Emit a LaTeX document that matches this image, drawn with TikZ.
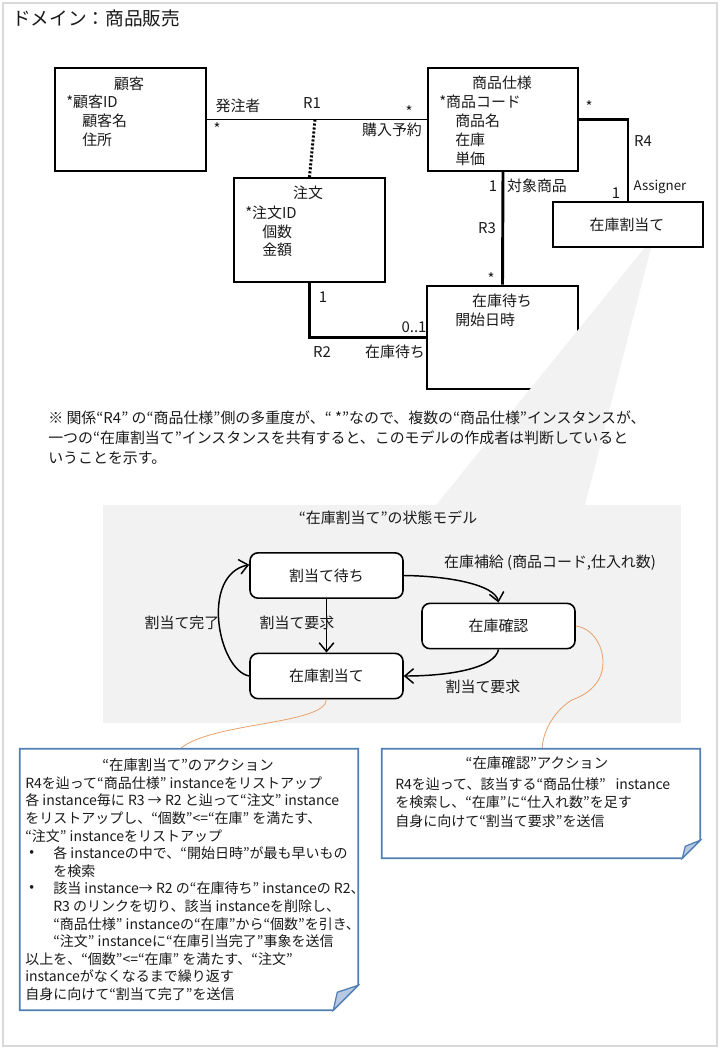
\documentclass[tikz,border=0pt]{standalone}
\usepackage{fontspec}
\setmainfont{Noto Sans CJK JP}
\usetikzlibrary{arrows.meta,fit,calc}
\definecolor{framec}{HTML}{D9D9D9}
\definecolor{greybg}{HTML}{F2F2F2}
\definecolor{orangec}{HTML}{E9A06A}
\definecolor{noteblue}{HTML}{4F7FB5}
\definecolor{foldc}{HTML}{B7C8E2}
\definecolor{txt}{HTML}{1A1A1A}
\tikzset{
 lbl/.style={inner sep=0pt, font=\fontsize{11.2}{13}\selectfont, text=txt},
 attr/.style={lbl, anchor=west},
 entbox/.style={draw, line width=1.5pt, inner sep=0pt},
 thickbox/.style={draw, line width=2.2pt, inner sep=0pt},
 assoc/.style={line width=2.2pt},
 stbox/.style={draw, rounded corners=6pt, line width=1.2pt, fill=white, minimum width=114.75pt, minimum height=34pt, inner sep=0pt, font=\fontsize{11.2}{13}\selectfont, text=txt},
 trans/.style={line width=1.1pt, -{Straight Barb[length=6.5pt,width=11pt]}},
 ntxt/.style={inner sep=0pt, anchor=west, font=\fontsize{10.5}{12}\selectfont, text=txt},
 notebd/.style={draw=noteblue, line width=1.2pt, fill=white},
 orangeline/.style={draw=orangec, line width=0.6pt},
}
\begin{document}
\begin{tikzpicture}[x=0.75pt,y=-0.75pt]
\useasboundingbox (0,0) rectangle (720,1049);
\draw[framec, line width=1.5pt] (3,3) rectangle (717,1046);
\node[lbl, anchor=west, font=\fontsize{14}{16}\selectfont] (title) at (12,18) {ドメイン：商品販売};

% entity boxes
\node[entbox, fit={(55,68)(206,171)}] (kokyaku) {};
\node[entbox, fit={(428,68)(578,171)}] (shohin) {};
\node[entbox, fit={(234,178)(385,282)}] (chumon) {};
\node[thickbox, fit={(427,286)(578,389)}] (machi) {};

% associations R1, R2, R3
\coordinate (r1mid) at (315,119.5);
\draw[line width=0.8pt] (kokyaku.east) -- (shohin.west);
\draw[line width=2.2pt, dash pattern=on 1.6pt off 1.4pt] (r1mid) -- (chumon.north);
\draw[assoc] (shohin.south) -- (machi.north);
\draw[assoc] (chumon.south) |- (machi.west);

% callout wedge
\fill[greybg] (651,240) -- (436,505) -- (585,505) -- (653,240) -- cycle;

% stock allocation class box and R4
\node[thickbox, fill=white, fit={(553,202)(703,247)}] (wari) {};
\node[lbl] (wariT) at (627,225) {在庫割当て};
\draw[assoc] (shohin.east) -| (wari.north);

% entity texts
\node[lbl] (kT) at (129,84) {顧客};
\node[attr] (k1) at (66,102) {*顧客ID};
\node[attr] (k2) at (82,121) {顧客名};
\node[attr] (k3) at (82,140) {住所};

\node[lbl] (sT) at (502,83) {商品仕様};
\node[attr] (s1) at (439,102) {*商品コード};
\node[attr] (s2) at (455,121) {商品名};
\node[attr] (s3) at (455,140) {在庫};
\node[attr] (s4) at (455,159) {単価};

\node[lbl] (cT) at (308,193) {注文};
\node[attr] (c1) at (245,213) {*注文ID};
\node[attr] (c2) at (262,232) {個数};
\node[attr] (c3) at (262,250) {金額};

\node[lbl] (mT) at (502,301) {在庫待ち};
\node[attr] (m1) at (455,320) {開始日時};

% association labels
\node[lbl] (l1) at (238,106) {発注者};
\node[lbl] (l2) at (312,103) {R1};
\node[lbl] (l3) at (217,129) {*};
\node[lbl] (l4) at (409,112) {*};
\node[lbl] (l5) at (392,130) {購入予約};
\node[lbl] (l6) at (589,107) {*};
\node[lbl] (l7) at (643,141) {R4};
\node[lbl] (l8) at (616,193) {1};
\node[lbl, font=\fontsize{10}{12}\selectfont] (l9) at (660,187) {Assigner};
\node[lbl] (l10) at (493,186) {1};
\node[lbl] (l11) at (537,186) {対象商品};
\node[lbl] (l12) at (487,228) {R3};
\node[lbl] (l13) at (491,279) {*};
\node[lbl] (l14) at (323,297) {1};
\node[lbl] (l15) at (414,327) {0..1};
\node[lbl] (l16) at (322,352) {R2};
\node[lbl] (l17) at (395,352) {在庫待ち};

% remark
\node[attr] (n1) at (48,418) {※ 関係“R4” の“商品仕様”側の多重度が、“ *”なので、複数の“商品仕様”インスタンスが、};
\node[attr] (n2) at (48,438) {一つの“在庫割当て”インスタンスを共有すると、このモデルの作成者は判断していると};
\node[attr] (n3) at (48,458) {いうことを示す。};

% state model
\node[fill=greybg, inner sep=0pt, fit={(103,505)(681,723)}] (stbg) {};
\node[lbl] (stT) at (388,518) {“在庫割当て”の状態モデル};

% orange connectors
\coordinate (lend) at (180,749);
\coordinate (rend) at (542,749);

\node[stbox] (wait) at (326.5,575.5) {割当て待ち};
\node[stbox] (alloc) at (326.5,676) {在庫割当て};
\node[stbox] (check) at (498.5,626) {在庫確認};

\draw[orangeline] (alloc.south) .. controls (325,725) and (210,722) .. (lend);
\draw[orangeline] (check.east) .. controls (592,628) and (603,645) .. (603,662) .. controls (603,685) and (585,695) .. (572,700) .. controls (555,710) and (543,730) .. (rend);

\draw[trans] (wait.south) -- (alloc.north);
\draw[trans] (alloc.west) .. controls (218,670) and (200,575) .. ($(wait.north west)!0.27!(wait.south west)$);
\draw[trans] (wait.east) .. controls (450,576) and (495,585) .. (check.north);
\draw[trans] (check.south) .. controls (495,668) and (450,676) .. (alloc.east);

\node[lbl] (e1) at (297,623) {割当て要求};
\node[lbl] (e2) at (182,623) {割当て完了};
\node[lbl] (e3) at (550,563) {在庫補給 (商品コード,仕入れ数)};
\node[lbl] (e4) at (483,687) {割当て要求};

% left action note
\node[inner sep=0pt, fit={(20,749)(358,1010)}] (lnote) {};
\draw[notebd] (lnote.north west) -- (lnote.north east) -- ($(lnote.south east)+(0,-25)$) -- ($(lnote.south east)+(-25,0)$) -- (lnote.south west) -- cycle;
\filldraw[draw=noteblue, fill=foldc, line width=0.9pt] ($(lnote.south east)+(0,-25)$) -- ($(lnote.south east)+(-21,-18)$) -- ($(lnote.south east)+(-25,0)$) -- cycle;
\node[ntxt, anchor=center, font=\fontsize{10.8}{12}\selectfont] (a0) at (188,765) {“在庫割当て”のアクション};
\node[ntxt] (a1) at (25,783) {R4を辿って“商品仕様” instanceをリストアップ};
\node[ntxt] (a2) at (25,800.6) {各 instance毎に R3 → R2 と辿って“注文” instance};
\node[ntxt] (a3) at (25,818.2) {をリストアップし、“個数”<=“在庫” を満たす、};
\node[ntxt] (a4) at (25,835.8) {“注文” instanceをリストアップ};
\node[ntxt] (b1) at (29,853.4) {•};
\node[ntxt] (a5) at (53,853.4) {各 instanceの中で、“開始日時”が最も早いもの};
\node[ntxt] (a6) at (53,871) {を検索};
\node[ntxt] (b2) at (29,888.6) {•};
\node[ntxt] (a7) at (53,888.6) {該当 instance→ R2 の“在庫待ち” instanceの R2、};
\node[ntxt] (a8) at (53,906.2) {R3 のリンクを切り、該当 instanceを削除し、};
\node[ntxt] (a9) at (53,923.8) {“商品仕様” instanceの“在庫”から“個数”を引き、};
\node[ntxt] (a10) at (53,941.4) {“注文” instanceに“在庫引当完了”事象を送信};
\node[ntxt] (a11) at (25,959) {以上を、“個数”<=“在庫” を満たす、“注文”};
\node[ntxt] (a12) at (25,976.6) {instanceがなくなるまで繰り返す};
\node[ntxt] (a13) at (25,994.2) {自身に向けて“割当て完了”を送信};

% right action note
\node[inner sep=0pt, fit={(382,749)(700,858)}] (rnote) {};
\draw[notebd] (rnote.north west) -- (rnote.north east) -- ($(rnote.south east)+(0,-18)$) -- ($(rnote.south east)+(-18,0)$) -- (rnote.south west) -- cycle;
\filldraw[draw=noteblue, fill=foldc, line width=0.9pt] ($(rnote.south east)+(0,-18)$) -- ($(rnote.south east)+(-15,-12)$) -- ($(rnote.south east)+(-18,0)$) -- cycle;
\node[ntxt, anchor=center, font=\fontsize{10.8}{12}\selectfont] (r0) at (537,763) {“在庫確認”アクション};
\node[ntxt] (r1) at (395,784) {R4を辿って、該当する“商品仕様”\hspace{0.7em}instance};
\node[ntxt] (r2) at (395,802) {を検索し、“在庫”に“仕入れ数”を足す};
\node[ntxt] (r3) at (395,821) {自身に向けて“割当て要求”を送信};
\end{tikzpicture}
\end{document}
